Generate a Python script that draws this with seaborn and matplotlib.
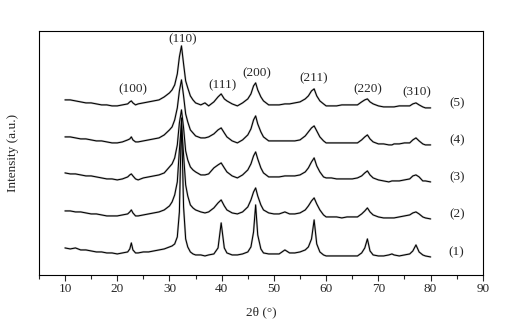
import matplotlib
matplotlib.use("Agg")
import matplotlib.pyplot as plt
import pandas as pd
import seaborn as sns
from matplotlib.ticker import MultipleLocator

# 2theta grid shared by all patterns (deg)
two_theta = [10, 11, 12, 13, 14, 15, 16, 17, 18, 19, 20, 21, 22, 22.4, 22.7, 23.0, 23.5, 24, 25, 26,
             27, 28, 29, 30, 30.5, 31, 31.5, 31.9, 32.3, 32.7, 33.1, 33.5, 34, 34.5, 35, 36, 36.8, 37.5,
             38.5, 39.3, 39.9, 40.5, 41, 42, 43, 44, 45, 45.6, 46.1, 46.5, 46.9, 47.5, 48, 49, 50, 51,
             52.1, 53, 54, 55, 56, 56.6, 57.2, 57.7, 58.2, 58.8, 59.5, 60, 61, 62, 63, 64, 65, 66, 66.8,
             67.4, 67.9, 68.4, 69, 70, 71, 72, 72.6, 73, 74, 75, 76, 76.6, 77.2, 77.8, 78.5, 79, 80]

# intensities (a.u., relative to its own baseline)
sample_1 = [9, 8, 9, 7, 7, 6, 5, 5, 4, 4, 3, 4, 5, 8, 14, 7, 4, 4, 5, 5,
            6, 7, 8, 10, 11, 13, 20, 45, 139, 50, 18, 10, 5, 3, 2, 2, 1, 2,
            3, 9, 34, 9, 4, 2, 2, 3, 5, 10, 25, 52, 22, 8, 4, 3, 3, 3,
            7, 4, 4, 5, 7, 10, 18, 37, 13, 5, 2, 1, 1, 1, 1, 1, 1, 1, 4,
            9, 18, 6, 2, 1, 1, 2, 3, 2, 1, 2, 3, 6, 12, 5, 2, 1, 0]
sample_2 = [9, 9, 8, 8, 7, 6, 6, 5, 4, 4, 4, 5, 6, 8, 10, 7, 4, 4, 5, 6,
            7, 8, 10, 14, 18, 25, 38, 70, 97, 65, 35, 24, 15, 12, 10, 8, 7, 8,
            12, 17, 20, 14, 10, 7, 6, 8, 13, 20, 28, 32, 24, 15, 10, 7, 6, 6,
            8, 6, 6, 7, 10, 14, 19, 22, 16, 10, 5, 3, 3, 3, 2, 3, 3, 3, 6,
            9, 12, 8, 5, 3, 2, 2, 2, 2, 3, 4, 5, 7, 8, 6, 3, 2, 1]
sample_3 = [10, 9, 9, 8, 7, 7, 6, 5, 4, 4, 3, 4, 6, 8, 9, 7, 4, 3, 5, 6,
            7, 8, 10, 16, 19, 25, 38, 60, 73, 55, 32, 23, 16, 13, 11, 8, 8, 9,
            15, 18, 20, 15, 11, 7, 5, 8, 13, 19, 27, 31, 24, 15, 10, 6, 6, 6,
            7, 7, 7, 8, 11, 15, 21, 25, 17, 11, 6, 5, 5, 4, 4, 4, 4, 5, 7,
            10, 12, 8, 5, 3, 2, 1, 2, 2, 2, 3, 4, 7, 8, 6, 2, 2, 1]
sample_4 = [9, 9, 8, 7, 7, 6, 5, 5, 4, 3, 3, 4, 6, 7, 9, 6, 4, 4, 5, 6,
            7, 8, 11, 16, 19, 26, 38, 55, 66, 50, 32, 24, 16, 13, 10, 8, 8, 9,
            12, 16, 18, 13, 9, 5, 3, 6, 11, 17, 26, 30, 22, 14, 9, 5, 5, 5,
            5, 5, 5, 6, 10, 14, 18, 20, 15, 9, 5, 3, 3, 3, 3, 3, 3, 3, 6,
            9, 11, 7, 4, 2, 2, 1, 1, 2, 2, 3, 3, 6, 8, 5, 2, 1, 1]
sample_5 = [9, 9, 8, 7, 6, 6, 5, 4, 4, 3, 3, 4, 5, 7, 8, 6, 4, 5, 6, 7,
            8, 9, 12, 16, 19, 24, 35, 52, 63, 45, 28, 21, 13, 9, 6, 4, 6, 3,
            7, 12, 15, 10, 8, 5, 3, 6, 10, 15, 23, 26, 19, 12, 8, 4, 4, 4,
            5, 5, 6, 7, 10, 13, 18, 20, 13, 8, 5, 3, 3, 3, 4, 4, 4, 4, 7,
            9, 10, 7, 5, 3, 2, 2, 2, 2, 3, 3, 3, 5, 6, 4, 2, 1, 1]

sample_names = ["(1)", "(2)", "(3)", "(4)", "(5)"]
peak_labels = ["(100)", "(110)", "(111)", "(200)", "(211)", "(220)", "(310)"]
peak_label_x = [23.0, 32.6, 40.2, 46.7, 57.6, 68.0, 77.4]
peak_label_y = [168, 218, 172, 184, 179, 168, 165]

# vertical stacking of the patterns
offset_step = 37
patterns = [sample_1, sample_2, sample_3, sample_4, sample_5]

frames = []
for i, (name, vals) in enumerate(zip(sample_names, patterns)):
    frames.append(pd.DataFrame({"two_theta": two_theta,
                                "intensity": [v + i * offset_step for v in vals],
                                "sample": name}))
df = pd.concat(frames, ignore_index=True)

sns.set_style("ticks")
plt.rcParams["font.family"] = ["Liberation Serif", "DejaVu Serif"]

fig, ax = plt.subplots(figsize=(5.12, 3.25), dpi=100)
fig.subplots_adjust(left=0.076, right=0.943, top=0.905, bottom=0.154)

# faint grey halo underneath, like the scanned trace
sns.lineplot(data=df, x="two_theta", y="intensity", hue="sample", units="sample",
             estimator=None, palette=["#a8a8a8"] * 5, linewidth=1.5, alpha=0.7,
             legend=False, ax=ax)
sns.lineplot(data=df, x="two_theta", y="intensity", hue="sample", units="sample",
             estimator=None, palette=["black"] * 5, linewidth=0.75, legend=False, ax=ax)

for lab, px, py in zip(peak_labels, peak_label_x, peak_label_y):
    ax.text(px, py, lab, ha="center", va="center", fontsize=9.5)

for i, name in enumerate(sample_names):
    base = patterns[i][-1] + i * offset_step
    ax.text(85, base + 5, name, ha="center", va="center", fontsize=9.5)

ax.set_xlim(5, 90)
ax.set_ylim(-18, 226)
ax.xaxis.set_major_locator(MultipleLocator(10))
ax.xaxis.set_minor_locator(MultipleLocator(5))
ax.tick_params(axis="x", which="major", length=4, width=0.8, labelsize=9.5, pad=2)
ax.tick_params(axis="x", which="minor", length=3, width=0.8)
ax.set_yticks([])
ax.set_xlabel("2θ (°)", fontsize=9.5, labelpad=8)
ax.set_ylabel("Intensity (a.u.)", fontsize=9.5, labelpad=14)
for s in ax.spines.values():
    s.set_linewidth(0.8)
    s.set_color("black")

fig.savefig("out.png", dpi=100)
plt.close(fig)
